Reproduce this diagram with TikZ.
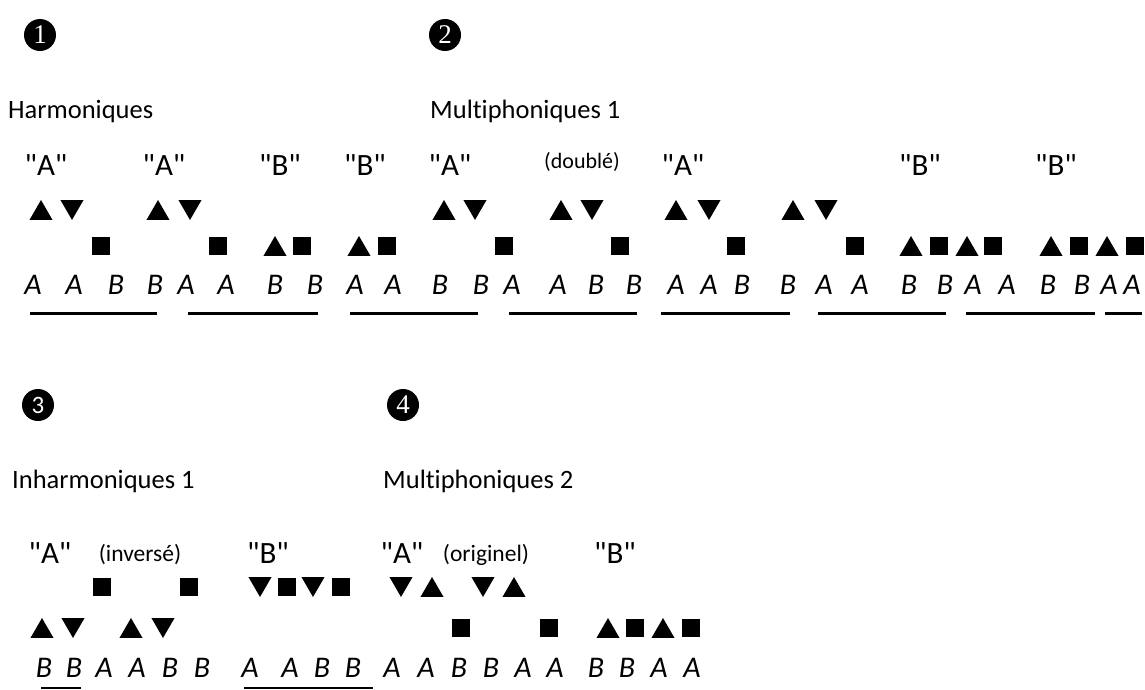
\documentclass[tikz,border=0pt]{standalone}
\usepackage{fontspec}
\setmainfont{Carlito}[Ligatures={TeXOff,NoCommon}]
\newfontfamily\digfont{Liberation Serif}
\usetikzlibrary{shapes.geometric}

\tikzset{
  numdot/.style={circle, fill=black, text=white, inner sep=0pt, minimum size=32pt,
    font=\digfont\fontsize{27}{27}\selectfont},
  heading/.style={anchor=base west, inner sep=0pt, font=\fontsize{26.5}{30}\selectfont},
  quot/.style={anchor=base, inner sep=0pt, font=\fontsize{31}{34}\selectfont},
  note/.style={anchor=base, inner sep=0pt, font=\fontsize{23.5}{26}\selectfont},
  let/.style={anchor=base, inner sep=0pt, font=\itshape\fontsize{30}{32}\selectfont},
  tri/.style={regular polygon, regular polygon sides=3, fill=black, inner sep=0pt,
    minimum size=26.6pt},
  triup/.style={tri, yshift=-3.3pt},
  tridown/.style={tri, shape border rotate=180, yshift=3.3pt},
  sqbox/.style={rectangle, fill=black, inner sep=0pt, minimum size=18pt},
  uline/.style={line width=3pt},
  thinline/.style={line width=1.3pt}
}

\begin{document}
\begin{tikzpicture}[x=1pt, y=-1pt]
  \useasboundingbox (0,0) rectangle (1145,690);

  % numbers and headings
  \node[numdot] (N1) at (40,35) {1};
  \node[numdot] (N2) at (445,35) {2};
  \node[numdot, font=\fontsize{25}{25}\selectfont] (N3) at (38,405) {3};
  \node[numdot] (N4) at (403,405) {4};
  \node[heading] (H1) at (8,118) {Harmoniques};
  \node[heading] (H2) at (430,118) {Multiphoniques 1};
  \node[heading] (H3) at (12,488) {Inharmoniques 1};
  \node[heading] (H4) at (383,488) {Multiphoniques 2};

  % row 1
  \foreach \xpos/\ch [count=\i] in {46/A,164/A,280/B,365/B,450/A,683/A,920/B,1056/B}
    \node[quot] (Q1_\i) at (\xpos,175) {"\ch"};
  \node[note, font=\fontsize{22}{24}\selectfont] (D1) at (582,168) {(doublé)};
  \foreach \xpos/\s [count=\i] in {41/triup,72/tridown,158/triup,190/tridown,
      444/triup,475/tridown,561/triup,592/tridown,676/triup,709/tridown,
      793/triup,826/tridown}
    \node[\s] (T1_\i) at (\xpos,210) {};
  \foreach \xpos/\s [count=\i] in {101/sqbox,218/sqbox,275/triup,302/sqbox,
      359/triup,387/sqbox,504/sqbox,620/sqbox,736/sqbox,855/sqbox,
      911/triup,939/sqbox,967/triup,993/sqbox,1051/triup,1079/sqbox,
      1107/triup,1135/sqbox}
    \node[\s] (S1_\i) at (\xpos,246) {};
  \foreach \xpos/\ch [count=\i] in {33/A,74/A,116/B,155/B,186/A,226/A,275/B,315/B,
      355/A,393/A,440/B,481/B,512/A,558/A,596/B,634/B,676/A,709/A,742/B,788/B,
      824/A,860/A,909/B,945/B,973/A,1007/A,1048/B,1082/B,1109/A,1132/A}
    \node[let] (L1_\i) at (\xpos,294) {\ch};
  \foreach \a/\b [count=\i] in {30/157,188/318,350/478,509/637,661/790,
      818/946,966/1095,1105/1142} {
    \coordinate (U1a_\i) at (\a,313);
    \coordinate (U1b_\i) at (\b,313);
    \draw[uline] (U1a_\i) -- (U1b_\i);
  }

  % row 2
  \foreach \xpos/\ch [count=\i] in {50/A,268/B,402/A,615/B}
    \node[quot] (Q2_\i) at (\xpos,563) {"\ch"};
  \node[note] (D2) at (140,561) {(inversé)};
  \node[note] (D3) at (486,561) {(originel)};
  \foreach \xpos/\s [count=\i] in {102/sqbox,189/sqbox,260/tridown,287/sqbox,
      313/tridown,341/sqbox,401/tridown,432/triup,483/tridown,514/triup}
    \node[\s] (T2_\i) at (\xpos,587) {};
  \foreach \xpos/\s [count=\i] in {42/triup,73/tridown,131/triup,163/tridown,
      461/sqbox,549/sqbox,608/triup,635/sqbox,663/triup,691/sqbox}
    \node[\s] (S2_\i) at (\xpos,628) {};
  \foreach \xpos/\ch [count=\i] in {44/B,74/B,104/A,137/A,170/B,202/B,250/A,290/A,
      322/B,353/B,392/A,426/A,459/B,491/B,523/A,555/A,596/B,627/B,659/A,692/A}
    \node[let] (L2_\i) at (\xpos,677) {\ch};
  \coordinate (U2a_1) at (41,688);
  \coordinate (U2b_1) at (81,688);
  \coordinate (U2a_2) at (244,688);
  \coordinate (U2b_2) at (373,688);
  \draw[thinline] (U2a_1) -- (U2b_1);
  \draw[thinline] (U2a_2) -- (U2b_2);
\end{tikzpicture}
\end{document}
